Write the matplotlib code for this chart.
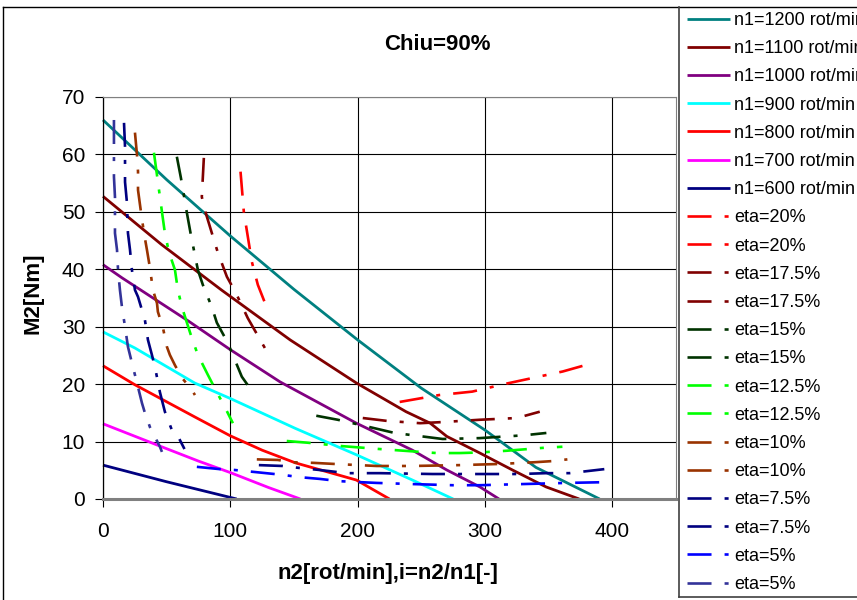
import matplotlib
matplotlib.use('Agg')
import matplotlib.pyplot as plt
from matplotlib.lines import Line2D

plt.rcParams['font.family'] = ['Liberation Sans', 'DejaVu Sans']
plt.rcParams['lines.scale_dashes'] = False

# n1 curves (solid), n2 [rot/min] vs M2 [Nm]
n2_1200 = [0, 50, 100, 150, 200, 250, 300, 340, 390]
m2_1200 = [66, 55.6, 45.8, 36.5, 27.7, 19.3, 12, 5.5, 0]
n2_1100 = [0, 46, 93, 147, 199, 238, 257, 270, 296, 322, 348, 374]
m2_1100 = [52.7, 44.3, 36.4, 27.7, 20.2, 15.2, 13.2, 10.9, 8.0, 5.0, 2.1, 0]
n2_1000 = [0, 15, 67, 100, 139, 199, 243, 270, 296, 311]
m2_1000 = [40.8, 38.5, 31.0, 26.0, 20.4, 13.2, 8.5, 5.05, 2.1, 0]
n2_900 = [0, 25, 72, 100, 151, 199, 243, 275]
m2_900 = [29.1, 26.3, 20.2, 17.5, 12.3, 7.7, 3.3, 0]
n2_800 = [0, 25, 72, 100, 125, 151, 199, 225]
m2_800 = [23.2, 19.9, 14.3, 11.0, 8.5, 6.3, 3.3, 0]
n2_700 = [0, 46, 75, 100, 130, 155]
m2_700 = [13.1, 9.1, 6.6, 4.6, 2.0, 0]
n2_600 = [0, 50, 105]
m2_600 = [5.9, 3.0, 0]

# eta curves: "a" = flat branch, "b" = steep branch
eta20a_x = [233, 264, 290, 317, 361, 377]
eta20a_y = [16.9, 18.1, 18.7, 20.1, 22.2, 23.2]
eta20b_x = [108, 110.6, 116.9, 121.6, 129.4]
eta20b_y = [57.0, 50.0, 41.3, 37.3, 32.9]

eta175a_x = [204, 223, 249, 267, 296, 325, 343]
eta175a_y = [14.1, 13.6, 13.2, 13.4, 13.8, 14.1, 15.2]
eta175b_x = [79.2, 77.6, 80, 85.5, 90.2, 97.3, 104.3, 113.7, 127.1]
eta175b_y = [59.4, 52.6, 50.3, 46.3, 42.9, 38.7, 35.9, 31.5, 26.3]

eta15a_x = [167.5, 184.3, 211.8, 229, 266.7, 295.7, 331, 348.2]
eta15a_y = [14.5, 13.8, 12.4, 11.5, 10.45, 10.6, 11.1, 11.5]
eta15b_x = [58, 61.2, 65.9, 69, 74.5, 78.4, 85.5, 89.4, 98, 109, 117.6]
eta15b_y = [59.6, 55.9, 49.8, 46, 39.9, 37.3, 33.4, 30.7, 27.2, 21.3, 18.6]

eta125a_x = [144.3, 160.8, 188.2, 217.3, 262, 280, 295.7, 316.9, 345.1, 360.8]
eta125a_y = [10.1, 9.8, 9.2, 8.7, 8.0, 8.0, 8.1, 8.4, 8.9, 9.1]
eta125b_x = [40, 42.4, 46.3, 48.6, 51.8, 56.5, 58.8, 62, 65.9, 69.8, 74.5, 82.4, 89.4, 95.7, 102]
eta125b_y = [60.3, 56.4, 50, 46.3, 43, 39.9, 36.4, 33.4, 30.7, 28, 25.1, 21.6, 18.6, 16, 13.2]

eta10a_x = [120.8, 137.3, 148.2, 164.7, 182, 214.9, 243.1, 280, 311.4, 338.8, 352.9, 364.7]
eta10a_y = [6.9, 6.8, 6.4, 6.3, 6.1, 5.75, 5.75, 5.9, 6.1, 6.4, 6.6, 6.9]
eta10b_x = [25.1, 26.7, 27.5, 27.5, 29.8, 32.2, 34.5, 36.9, 39.2, 42.4, 43.1, 47.1, 50.2, 52.5, 56.5, 62, 69.8, 72.2]
eta10b_y = [63.8, 59.9, 57, 53.8, 50, 46.3, 43.4, 40.2, 36.4, 34.1, 32.6, 29.8, 26.5, 25.1, 23.3, 21.1, 19, 18.1]

eta75a_x = [122.4, 141.2, 154.5, 170.2, 191.4, 217.3, 258.8, 290.2, 327.1, 348.2, 366.3, 382, 393.7]
eta75a_y = [5.9, 5.75, 5.4, 5.05, 4.5, 4.5, 4.35, 4.35, 4.35, 4.5, 4.5, 4.9, 5.2]
eta75b_x = [16.5, 17.3, 17.3, 17.3, 18.8, 19.6, 21.2, 22.7, 25.1, 27.5, 30.6, 32.9, 35.3, 38.4, 40.8, 44.7, 48.6, 51, 54.1, 58, 64]
eta75b_y = [65.5, 61.3, 57.8, 55.2, 51.6, 46.3, 43.4, 39.9, 36.4, 35.2, 32.9, 31.2, 27.7, 25.1, 23, 18.6, 15.2, 13.8, 12, 11.3, 8.7]

eta5a_x = [73.7, 91.8, 103.5, 119.2, 141.2, 154.5, 170.2, 185.9, 214.9, 243.1, 274.5, 295.7, 329.4, 363.9, 399.2]
eta5a_y = [5.6, 5.2, 5.05, 4.7, 4.2, 3.8, 3.5, 3.1, 2.8, 2.6, 2.4, 2.4, 2.6, 2.8, 2.95]
eta5b_x = [8.6, 8.6, 8.6, 9.4, 9.4, 11, 11.8, 13.3, 14.9, 17.3, 19.6, 23.5, 26.7, 30.6, 32.9, 36.9, 39.2, 44.7, 46.3]
eta5b_y = [66, 59.6, 56.1, 52.6, 46.3, 43.4, 39.9, 36.4, 33.4, 30, 26.5, 23, 20.2, 16.7, 15, 12.5, 11.5, 9.1, 8.2]

n1_series = [
    (n2_1200, m2_1200, '#008080', 'n1=1200 rot/min'),
    (n2_1100, m2_1100, '#800000', 'n1=1100 rot/min'),
    (n2_1000, m2_1000, '#800080', 'n1=1000 rot/min'),
    (n2_900, m2_900, '#00FFFF', 'n1=900 rot/min'),
    (n2_800, m2_800, '#FF0000', 'n1=800 rot/min'),
    (n2_700, m2_700, '#FF00FF', 'n1=700 rot/min'),
    (n2_600, m2_600, '#000080', 'n1=600 rot/min'),
]
eta_series = [
    (eta20a_x, eta20a_y, '#FF0000', 'eta=20%'),
    (eta20b_x, eta20b_y, '#FF0000', 'eta=20%'),
    (eta175a_x, eta175a_y, '#800000', 'eta=17.5%'),
    (eta175b_x, eta175b_y, '#800000', 'eta=17.5%'),
    (eta15a_x, eta15a_y, '#003300', 'eta=15%'),
    (eta15b_x, eta15b_y, '#003300', 'eta=15%'),
    (eta125a_x, eta125a_y, '#00FF00', 'eta=12.5%'),
    (eta125b_x, eta125b_y, '#00FF00', 'eta=12.5%'),
    (eta10a_x, eta10a_y, '#993300', 'eta=10%'),
    (eta10b_x, eta10b_y, '#993300', 'eta=10%'),
    (eta75a_x, eta75a_y, '#000080', 'eta=7.5%'),
    (eta75b_x, eta75b_y, '#000080', 'eta=7.5%'),
    (eta5a_x, eta5a_y, '#0000FF', 'eta=5%'),
    (eta5b_x, eta5b_y, '#333399', 'eta=5%'),
]

W, H = 857, 600
fig = plt.figure(figsize=(W / 100, H / 100), dpi=100)
ax = fig.add_axes([103 / W, 1 - 499 / H, (676 - 103) / W, (499 - 97) / H])

dash = (0, (17.3, 9.4, 2.9, 9.4))
handles = []
for x, y, c, lab in n1_series:
    ln, = ax.plot(x, y, color=c, lw=2.0, label=lab, solid_capstyle='butt', clip_on=False)
    handles.append(ln)
for x, y, c, lab in eta_series:
    ln, = ax.plot(x, y, color=c, lw=1.9, ls=dash, label=lab, clip_on=False)
    handles.append(ln)

ax.set_xlim(0, 450)
ax.set_ylim(0, 70)
ax.set_xticks([0, 100, 200, 300, 400])
ax.set_yticks(range(0, 71, 10))
ax.grid(True, color='black', lw=0.8)
ax.set_axisbelow(True)
ax.spines['left'].set_color('black')
ax.spines['left'].set_linewidth(0.9)
ax.spines['bottom'].set_color('#808080')
ax.spines['bottom'].set_linewidth(2.2)
ax.spines['top'].set_color('#808080')
ax.spines['right'].set_color('#808080')
ax.tick_params(direction='out', length=5.8, width=0.8, color='black', labelsize=15)
ax.tick_params(axis='x', pad=11)
ax.tick_params(axis='y', pad=7)

fig.text(437 / W, 1 - 44 / H, 'Chiu=90%', ha='center', va='center', fontsize=16, fontweight='bold')
fig.text(388 / W, 1 - 573 / H, 'n2[rot/min],i=n2/n1[-]', ha='center', va='center', fontsize=16, fontweight='bold')
fig.text(33 / W, 1 - 293 / H, 'M2[Nm]', ha='center', va='center', rotation=90, fontsize=16, fontweight='bold')

# chart border and legend box
fig.add_artist(Line2D([3 / W, 3 / W], [0, 1 - 7 / H], color='black', lw=1))
fig.add_artist(Line2D([3 / W, 1], [1 - 7 / H, 1 - 7 / H], color='black', lw=1))
fig.add_artist(Line2D([679 / W, 1], [3 / H, 3 / H], color='#404040', lw=1.2))
fig.add_artist(Line2D([679 / W, 679 / W], [3 / H, 1 - 7 / H], color='#404040', lw=1.2))

fig.legend(handles=handles, loc='upper left', bbox_to_anchor=(687 / W, 1 - 12 / H),
           frameon=False, borderpad=0, borderaxespad=0, fontsize=13,
           handlelength=2.4, handletextpad=0.2, labelspacing=0.62)

fig.savefig('out.png', dpi=100)
